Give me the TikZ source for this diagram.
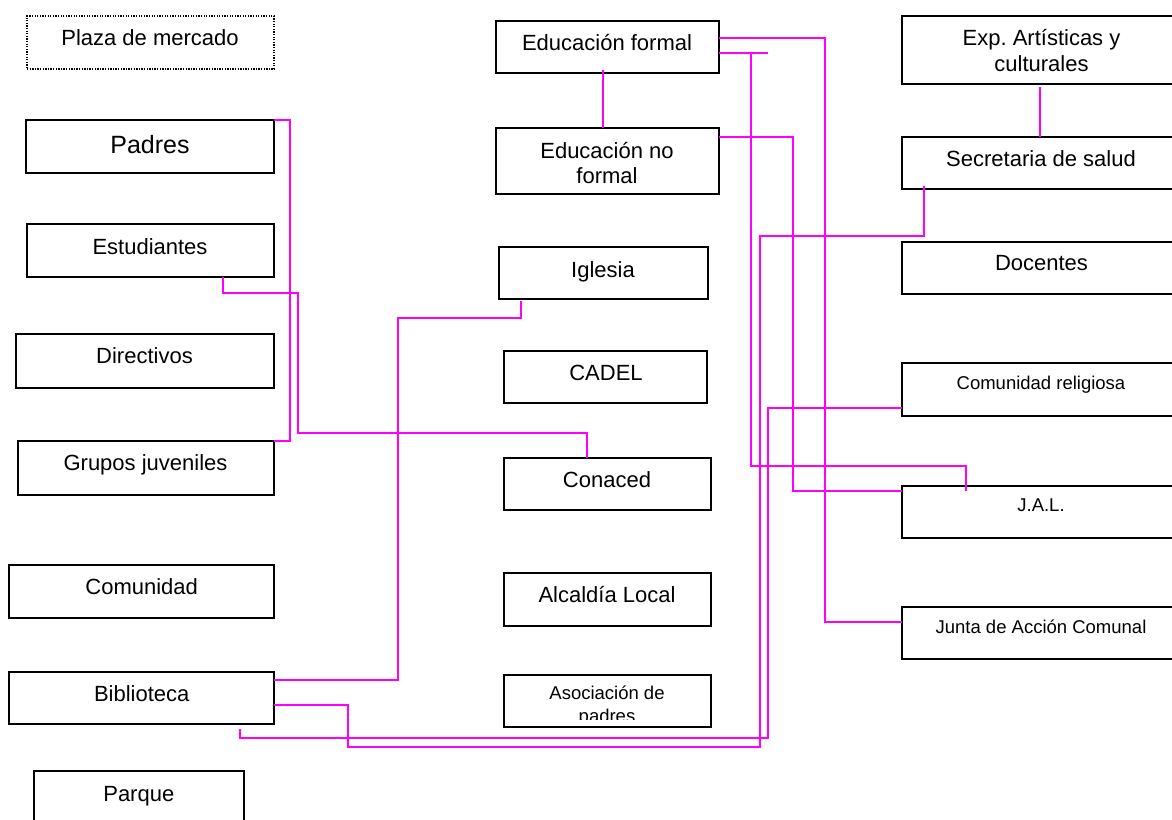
\documentclass[tikz,border=0pt]{standalone}
\usepackage{fontspec}
\setmainfont{Liberation Sans}
\frenchspacing
\definecolor{mag}{RGB}{255,0,255}
\tikzset{
  box/.style={draw=black, line width=1.8pt, fill=white, rectangle, inner sep=0pt, outer sep=0pt},
  dotbox/.style={box, line width=1.4pt, dash pattern=on 1.3pt off 1.3pt},
  txt/.style={inner sep=0pt, outer sep=0pt, anchor=base, font=\fontsize{22}{26}\selectfont},
  txtbig/.style={txt, font=\fontsize{25}{30}\selectfont},
  txtsmall/.style={txt, font=\fontsize{18.5}{22}\selectfont},
  link/.style={draw=mag, line width=2pt}
}
\begin{document}
\begin{tikzpicture}[x=1pt,y=-1pt]
\useasboundingbox (0,0) rectangle (1172,819);
% left column
\node[dotbox, minimum width=247pt, minimum height=53pt] (plaza) at (150.5,42.5) {};
\node[box, minimum width=248pt, minimum height=53pt] (padres) at (150,146.5) {};
\node[box, minimum width=247pt, minimum height=53pt] (estud) at (150.5,250.5) {};
\node[box, minimum width=258pt, minimum height=54pt] (direct) at (145,361) {};
\node[box, minimum width=256pt, minimum height=54pt] (grupos) at (146,468) {};
\node[box, minimum width=265pt, minimum height=53pt] (comun) at (141.5,591.5) {};
\node[box, minimum width=265pt, minimum height=52pt] (biblio) at (141.5,698) {};
\node[box, minimum width=210pt, minimum height=59pt] (parque) at (139,800.5) {};
% middle column
\node[box, minimum width=223pt, minimum height=52pt] (edform) at (607.5,47) {};
\node[box, minimum width=223pt, minimum height=66pt] (ednoform) at (607.5,161) {};
\node[box, minimum width=209pt, minimum height=52pt] (iglesia) at (603.5,273) {};
\node[box, minimum width=203pt, minimum height=52pt] (cadel) at (605.5,377) {};
\node[box, minimum width=207pt, minimum height=52pt] (conaced) at (607.5,484) {};
\node[box, minimum width=207pt, minimum height=53pt] (alcaldia) at (607.5,599.5) {};
\node[box, minimum width=207pt, minimum height=52pt] (asoc) at (607.5,701) {};
% right column
\node[box, minimum width=278pt, minimum height=68pt] (exp) at (1041,50) {};
\node[box, minimum width=278pt, minimum height=52pt] (secre) at (1041,163) {};
\node[box, minimum width=278pt, minimum height=52pt] (docentes) at (1041,268) {};
\node[box, minimum width=278pt, minimum height=53pt] (comrel) at (1041,389.5) {};
\node[box, minimum width=278pt, minimum height=52pt] (jal) at (1041,512) {};
\node[box, minimum width=278pt, minimum height=52pt] (junta) at (1041,633) {};
% texts
\node[txt] (tplaza) at (150,45) {Plaza de mercado};
\node[txtbig] (tpadres) at (150,153) {Padres};
\node[txt] (testud) at (150,254) {Estudiantes};
\node[txt] (tdirect) at (144.5,363) {Directivos};
\node[txt] (tgrupos) at (145.5,470) {Grupos juveniles};
\node[txt] (tcomun) at (141.7,594) {Comunidad};
\node[txt] (tbiblio) at (141.7,701) {Biblioteca};
\node[txt] (tparque) at (138.8,801) {Parque};
\node[txt] (tedform) at (607,50) {Educación formal};
\node[txt] (tednoform1) at (607,158) {Educación no};
\node[txt] (tednoform2) at (607,183) {formal};
\node[txt] (tiglesia) at (603,277) {Iglesia};
\node[txt] (tcadel) at (606,380) {CADEL};
\node[txt] (tconaced) at (607,487) {Conaced};
\node[txt] (talcaldia) at (607,602) {Alcaldía Local};
\node[txtsmall] (tasoc1) at (607,699) {Asociación de};
\begin{scope}
\clip (504,700) rectangle (711,719);
\node[txtsmall] (tasoc2) at (607,722) {padres};
\end{scope}
\node[txt] (texp1) at (1041.5,45) {Exp. Artísticas y};
\node[txt] (texp2) at (1041.5,71) {culturales};
\node[txt] (tsecre) at (1041,166) {Secretaria de salud};
\node[txt] (tdocentes) at (1041.5,270) {Docentes};
\node[txtsmall] (tcomrel) at (1041,389) {Comunidad religiosa};
\node[txtsmall] (tjal) at (1041,511) {J.A.L.};
\node[txtsmall] (tjunta) at (1041,633) {Junta de Acción Comunal};
% connectors
\draw[link] (padres.north east) -- ++(16,0) |- (grupos.north east);
\draw[link] ([xshift=196pt]estud.south west) -- ++(0,16) -- ++(75,0) -- ++(0,140) -| ([xshift=83pt]conaced.north west);
\draw[link] ([yshift=18pt]biblio.east) -- ++(124,0) -- (398,318) -| ([xshift=22pt,yshift=-2pt]iglesia.south west);
\draw[link] ([yshift=-7pt]biblio.east) -- ++(74,0) -- ++(0,42) -- (760,747) -- (760,236) -| ([xshift=22pt,yshift=3pt]secre.south west);
\draw[link] ([xshift=231pt,yshift=-5pt]biblio.south west) -- ++(0,9) -- (768,738) |- ([yshift=8pt]comrel.south west);
\draw[link] ([yshift=-6pt]edform.east) -- (768,53);
\draw[link] (751,53) -- (751,466) -| ([xshift=64pt,yshift=-5pt]jal.north west);
\draw[link] ([yshift=9pt]edform.east) -- (825,38) |- ([yshift=-15pt]junta.north west);
\draw[link] ([yshift=-9pt]ednoform.north east) -- (793,137) |- ([yshift=-5pt]jal.north west);
\draw[link] ([xshift=-4.5pt,yshift=3pt]edform.south) -- ([xshift=-4.5pt]ednoform.north);
\draw[link] ([xshift=-1pt,yshift=-3pt]exp.south) -- ([xshift=-1pt]secre.north);
\end{tikzpicture}
\end{document}
